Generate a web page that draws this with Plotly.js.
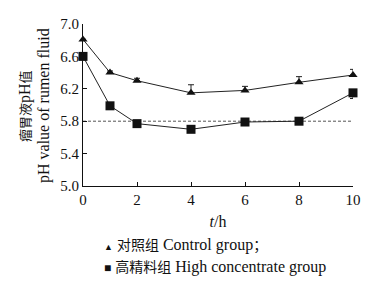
<!DOCTYPE html>
<html><head><meta charset="utf-8">
<script src="https://cdn.plot.ly/plotly-3.0.1.min.js"></script>
<style>html,body{margin:0;padding:0;background:#fff}#chart{width:372px;height:281px}</style>
</head><body><div id="chart"></div>
<script>
const hours = [0, 1, 2, 4, 6, 8, 10];
const controlPH = [6.81, 6.40, 6.30, 6.15, 6.18, 6.28, 6.37];
const controlErr = [0.0, 0.02, 0.03, 0.10, 0.05, 0.07, 0.07];
const highPH = [6.60, 5.99, 5.77, 5.70, 5.79, 5.80, 6.15];
const highErr = [0.0, 0.02, 0.0, 0.0, 0.0, 0.0, 0.07];
const threshold = 5.8;
const controlCN = '对照组', controlEN = 'Control group';
const highCN = '高精料组', highEN = 'High concentrate group';
const yTitleCN = '瘤胃液', yTitleEN = 'pH value of rumen fluid';
const yTicks = [5.0, 5.4, 5.8, 6.2, 6.6, 7.0];
const xTicks = [0, 2, 4, 6, 8, 10];

const FONT = "'Liberation Serif', 'Times New Roman', 'Noto Sans CJK SC', serif";
const cn = (s, sz) => '<span style="font-size:' + sz + 'px">' + s + '</span>';
const zeros = hours.map(() => 0);
const traces = [
  {x: [hours[0], hours[hours.length-1]], y: [threshold, threshold], mode: 'lines',
   line: {color: '#555', width: 1, dash: '3px,2px'}, showlegend: false, hoverinfo: 'skip'},
  {x: hours, y: controlPH, mode: 'lines+markers', name: controlEN, showlegend: false,
   line: {color: '#222', width: 1}, marker: {symbol: 'triangle-up', size: 8, color: '#111'},
   error_y: {type: 'data', symmetric: false, array: controlErr, arrayminus: zeros, color: '#222', thickness: 1, width: 3},
   cliponaxis: false},
  {x: hours, y: highPH, mode: 'lines+markers', name: highEN, showlegend: false,
   line: {color: '#222', width: 1}, marker: {symbol: 'square', size: 9, color: '#111'},
   error_y: {type: 'data', symmetric: false, array: zeros, arrayminus: highErr, color: '#222', thickness: 1, width: 3},
   cliponaxis: false}
];
const layout = {
  width: 372, height: 281,
  margin: {l: 83, r: 19, t: 24, b: 95},
  paper_bgcolor: '#fff', plot_bgcolor: '#fff',
  font: {family: FONT, size: 15, color: '#111'},
  showlegend: false,
  xaxis: {range: [0, 10], tickvals: xTicks, ticks: 'inside', ticklen: 4, tickcolor: '#111',
    showline: true, linecolor: '#111', linewidth: 1, showgrid: false, zeroline: false,
    tickfont: {family: FONT, size: 15},
    title: {text: '<i>t</i>/h', font: {family: FONT, size: 16}, standoff: 8}},
  yaxis: {range: [5, 7], tickvals: yTicks, tickformat: '.1f', ticks: 'inside', ticklen: 4, tickcolor: '#111',
    showline: true, linecolor: '#111', linewidth: 1, showgrid: false, zeroline: false,
    tickfont: {family: FONT, size: 15}},
  annotations: [
    {xref: 'paper', yref: 'paper', x: -0.2148, y: 0.494, xanchor: 'center', yanchor: 'middle', showarrow: false,
     textangle: -90, text: cn(yTitleCN, 13) + 'pH' + cn('值', 13), font: {family: FONT, size: 16}},
    {xref: 'paper', yref: 'paper', x: -0.1444, y: 0.494, xanchor: 'center', yanchor: 'middle', showarrow: false,
     textangle: -90, text: yTitleEN, font: {family: FONT, size: 16}},
    {xref: 'paper', yref: 'paper', x: 0.07, y: -0.364, xanchor: 'left', yanchor: 'middle', showarrow: false,
     text: '<span style="font-size:9px">▲</span> ' + cn(controlCN, 14) + ' ' + controlEN + cn('；', 14), font: {family: FONT, size: 16}},
    {xref: 'paper', yref: 'paper', x: 0.07, y: -0.5, xanchor: 'left', yanchor: 'middle', showarrow: false,
     text: '<span style="font-size:12px">■</span> ' + cn(highCN, 14) + ' ' + highEN, font: {family: FONT, size: 16}}
  ]
};
Plotly.newPlot('chart', traces, layout, {displayModeBar: false, staticPlot: true});
</script></body></html>
